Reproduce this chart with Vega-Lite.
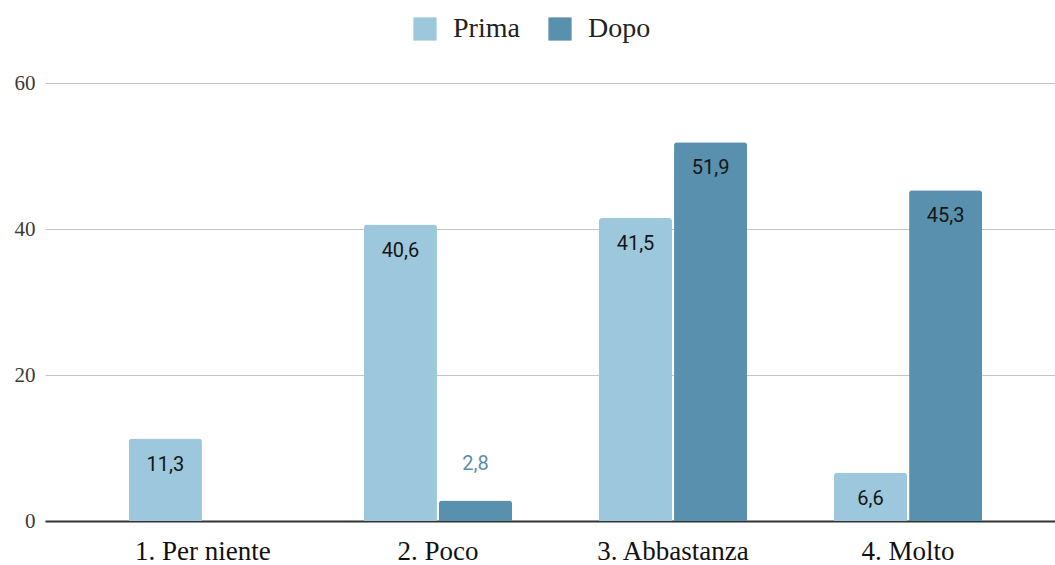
{
  "$schema": "https://vega.github.io/schema/vega-lite/v6.json",
  "width": 1021,
  "height": 438,
  "autosize": {"type": "none"},
  "padding": {"left": 45, "top": 83, "right": 0, "bottom": 44},
  "background": "white",
  "data": {
    "values": [
      {"cat": "1. Per niente", "serie": "Prima", "v": 11.3},
      {"cat": "2. Poco", "serie": "Prima", "v": 40.6},
      {"cat": "2. Poco", "serie": "Dopo", "v": 2.8},
      {"cat": "3. Abbastanza", "serie": "Prima", "v": 41.5},
      {"cat": "3. Abbastanza", "serie": "Dopo", "v": 51.9},
      {"cat": "4. Molto", "serie": "Prima", "v": 6.6},
      {"cat": "4. Molto", "serie": "Dopo", "v": 45.3}
    ]
  },
  "encoding": {
    "x": {
      "field": "cat", "type": "nominal",
      "scale": {"paddingInner": 0.37, "paddingOuter": 0.357},
      "axis": {
        "title": null, "labelAngle": 0, "labelFont": "Liberation Serif", "labelFontSize": 27,
        "labelColor": "#111", "ticks": false, "labelPadding": 17,
        "domainColor": "#333", "domainWidth": 2
      }
    },
    "xOffset": {"field": "serie", "type": "nominal", "scale": {"domain": ["Prima", "Dopo"], "paddingInner": 0.027}},
    "y": {
      "field": "v", "type": "quantitative",
      "scale": {"domain": [0, 60]},
      "axis": {
        "title": null, "values": [0, 20, 40, 60], "labelFont": "Liberation Serif", "labelFontSize": 21,
        "labelColor": "#3a3a3a", "ticks": false, "domain": false, "labelPadding": 10,
        "gridColor": "#c4c4c4", "gridWidth": 1.2
      }
    }
  },
  "layer": [
    {
      "mark": {"type": "bar", "cornerRadiusTopLeft": 3, "cornerRadiusTopRight": 3},
      "encoding": {
        "color": {
          "field": "serie", "type": "nominal",
          "scale": {"domain": ["Prima", "Dopo"], "range": ["#9dc7dc", "#5890ad"]},
          "legend": {
            "title": null, "orient": "none", "direction": "horizontal",
            "legendX": 366, "legendY": -68,
            "symbolType": "square", "symbolSize": 540, "symbolStrokeWidth": 0,
            "labelFont": "Liberation Serif", "labelFontSize": 28, "labelColor": "#222",
            "labelOffset": 14, "columnPadding": 26
          }
        }
      }
    },
    {
      "transform": [{"filter": "datum.v >= 5"}],
      "mark": {"type": "text", "baseline": "middle", "dy": 26, "font": "Roboto", "fontSize": 20, "color": "#151515"},
      "encoding": {"text": {"field": "v", "type": "quantitative", "format": ".1f"}}
    },
    {
      "transform": [{"filter": "datum.v < 5"}],
      "mark": {"type": "text", "baseline": "middle", "dy": -37, "font": "Roboto", "fontSize": 20, "stroke": "#ffffff", "strokeWidth": 5, "strokeJoin": "round", "color": "#ffffff"},
      "encoding": {"text": {"field": "v", "type": "quantitative", "format": ".1f"}}
    },
    {
      "transform": [{"filter": "datum.v < 5"}],
      "mark": {"type": "text", "baseline": "middle", "dy": -37, "font": "Roboto", "fontSize": 20, "color": "#5a8fac"},
      "encoding": {"text": {"field": "v", "type": "quantitative", "format": ".1f"}}
    }
  ],
  "config": {
    "view": {"stroke": null},
    "locale": {"number": {"decimal": ",", "thousands": ".", "grouping": [3], "currency": ["", " €"]}}
  }
}
